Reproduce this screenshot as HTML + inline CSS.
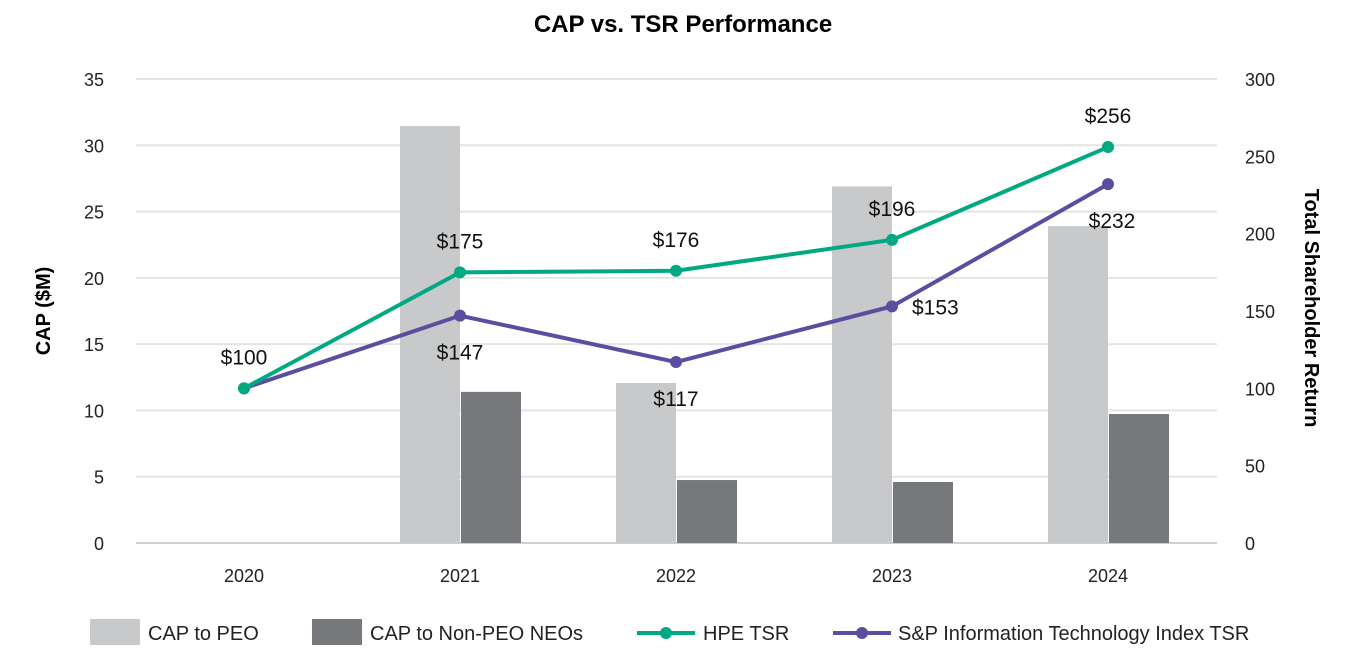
<!DOCTYPE html>
<html><head><meta charset="utf-8"><style>
body{margin:0;background:#fff;}
svg{display:block;font-family:"Liberation Sans",sans-serif;}
</style></head><body>
<svg id="c" width="1366" height="662">
<text x="683" y="32" text-anchor="middle" font-size="24" font-weight="bold" fill="#000">CAP vs. TSR Performance</text>
<g id="grid"></g><g id="bars"></g><g id="lines"></g><g id="axes"></g>
<text transform="translate(50,311) rotate(-90)" text-anchor="middle" font-size="20" font-weight="bold">CAP ($M)</text>
<text transform="translate(1305,308) rotate(90)" text-anchor="middle" font-size="20" font-weight="bold">Total Shareholder Return</text>
<g font-size="20" fill="#222">
<rect x="90" y="619" width="50" height="26" fill="#c8c9cb"/>
<text x="148" y="640">CAP to PEO</text>
<rect x="312" y="619" width="50" height="26" fill="#77787b"/>
<text x="370" y="640">CAP to Non-PEO NEOs</text>
<line x1="637" y1="633" x2="695" y2="633" stroke="#01a982" stroke-width="4"/>
<circle cx="666" cy="633" r="6" fill="#01a982"/>
<text x="703" y="640">HPE TSR</text>
<line x1="833" y1="633" x2="891" y2="633" stroke="#5b4ea0" stroke-width="4"/>
<circle cx="862" cy="633" r="6" fill="#5b4ea0"/>
<text x="898" y="640">S&amp;P Information Technology Index TSR</text>
</g>
</svg>
<script>
const categories=["2020","2021","2022","2023","2024"];
const capPEO=[null,31.45,12.07,26.9,23.9];
const capNonPEO=[null,11.4,4.75,4.6,9.73];
const hpeTSR=[100,175,176,196,256];
const spTSR=[100,147,117,153,232];
const leftTicks=[0,5,10,15,20,25,30,35];
const rightTicks=[0,50,100,150,200,250,300];
const NS="http://www.w3.org/2000/svg";
const X0=136,BAND=216,Y0=543,YT=79;
const xC=i=>X0+BAND*(i+0.5);
const yL=v=>Y0-(Y0-YT)*v/35;
const yR=v=>Y0-(Y0-YT)*v/300;
function mk(tag,at,parent,txt){const e=document.createElementNS(NS,tag);for(const k in at)e.setAttribute(k,at[k]);if(txt!=null)e.textContent=txt;document.getElementById(parent).appendChild(e);return e;}
leftTicks.forEach(t=>{
 const g=mk("line",{x1:X0,x2:1217,y1:yL(t),y2:yL(t),stroke:t===0?"#d0d0d0":"#e4e4e4","stroke-width":2},"grid");
 
 
 const l=mk("text",{x:104,y:yL(t)+7,"text-anchor":"end","font-size":18,fill:"#222"},"axes",t);
 
 
});
rightTicks.forEach(t=>{
 const l=mk("text",{x:1245,y:yR(t)+7,"font-size":18,fill:"#222"},"axes",t);
 
 
});
categories.forEach((c,i)=>{
 const l=mk("text",{x:xC(i),y:582,"text-anchor":"middle","font-size":18,fill:"#222"},"axes",c);
 
 
 if(capPEO[i]!=null){
  const b=mk("rect",{x:xC(i)-60,y:yL(capPEO[i]),width:60,height:Y0-yL(capPEO[i]),fill:"#c8c9cb"},"bars");
  
  
 }
 if(capNonPEO[i]!=null){
  const b=mk("rect",{x:xC(i)+1,y:yL(capNonPEO[i]),width:60,height:Y0-yL(capNonPEO[i]),fill:"#77787b"},"bars");
  
  
 }
});
function series(vals,col,name){
 const p=mk("polyline",{points:vals.map((v,i)=>xC(i)+","+yR(v)).join(" "),fill:"none",stroke:col,"stroke-width":4},"lines");
 
 
 vals.forEach((v,i)=>{
  const d=mk("circle",{cx:xC(i),cy:yR(v),r:6,fill:col},"lines");
  
  
 });
}
series(spTSR,"#5b4ea0","sp-tsr");
series(hpeTSR,"#01a982","hpe-tsr");
hpeTSR.forEach((v,i)=>{
 const t=mk("text",{x:xC(i),y:yR(v)-24,"text-anchor":"middle","font-size":21,fill:"#111"},"lines","$"+v);
 
 
});
spTSR.forEach((v,i)=>{
 if(i===0)return;
 let x=xC(i),y=yR(v)+44,a="middle";
 if(i===3){x=xC(i)+20;y=yR(v)+8;a="start";}
 if(i===4){x=xC(i)+4;y=yR(v)+44;}
 const t=mk("text",{x:x,y:y,"text-anchor":a,"font-size":21,fill:"#111"},"lines","$"+v);
 
 
});
</script>
</body></html>
